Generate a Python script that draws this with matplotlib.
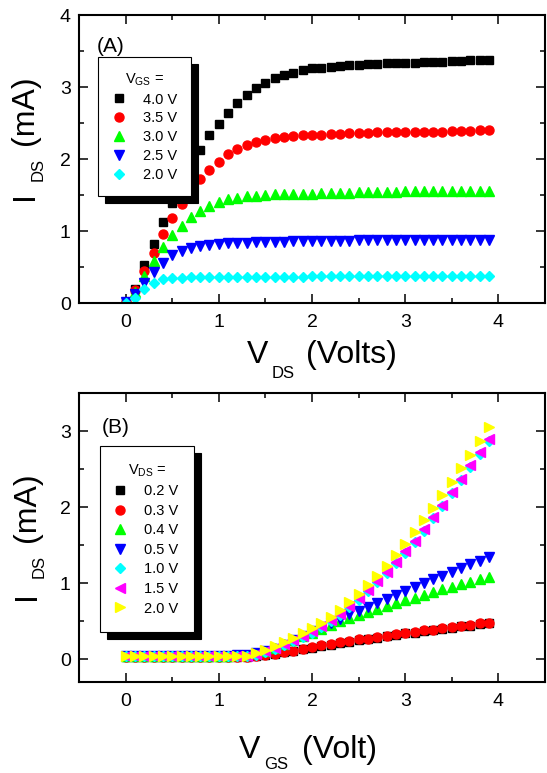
import matplotlib
matplotlib.use("Agg")
import matplotlib.pyplot as plt
from matplotlib.ticker import MultipleLocator

plt.rcParams['font.family'] = ['Liberation Sans', 'DejaVu Sans']

# sweep voltage (same grid for both panels)
v_sweep = [0.0, 0.1, 0.2, 0.3, 0.4, 0.5, 0.6, 0.7, 0.8, 0.9,
           1.0, 1.1, 1.2, 1.3, 1.4, 1.5, 1.6, 1.7, 1.8, 1.9,
           2.0, 2.1, 2.2, 2.3, 2.4, 2.5, 2.6, 2.7, 2.8, 2.9,
           3.0, 3.1, 3.2, 3.3, 3.4, 3.5, 3.6, 3.7, 3.8, 3.9]

# (A) output curves, I_DS (mA) vs V_DS for each V_GS
vgs_labels = ['4.0 V', '3.5 V', '3.0 V', '2.5 V', '2.0 V']
ids_vgs40 = [0.02, 0.20, 0.53, 0.82, 1.12, 1.39, 1.65, 1.90, 2.12, 2.33,
             2.49, 2.64, 2.78, 2.89, 2.99, 3.06, 3.12, 3.17, 3.20, 3.24,
             3.26, 3.27, 3.28, 3.29, 3.30, 3.31, 3.32, 3.32, 3.33, 3.33,
             3.34, 3.34, 3.35, 3.35, 3.35, 3.36, 3.36, 3.37, 3.37, 3.38]
ids_vgs35 = [0.02, 0.18, 0.45, 0.69, 0.96, 1.18, 1.37, 1.55, 1.72, 1.85,
             1.96, 2.07, 2.14, 2.20, 2.24, 2.27, 2.29, 2.31, 2.32, 2.33,
             2.34, 2.34, 2.35, 2.35, 2.36, 2.36, 2.36, 2.37, 2.37, 2.37,
             2.37, 2.38, 2.38, 2.38, 2.38, 2.39, 2.39, 2.39, 2.40, 2.40]
ids_vgs30 = [0.02, 0.15, 0.37, 0.58, 0.78, 0.94, 1.07, 1.19, 1.28, 1.35,
             1.40, 1.44, 1.46, 1.48, 1.49, 1.50, 1.51, 1.51, 1.52, 1.52,
             1.52, 1.53, 1.53, 1.53, 1.53, 1.54, 1.54, 1.54, 1.54, 1.54,
             1.55, 1.55, 1.55, 1.55, 1.55, 1.56, 1.56, 1.56, 1.56, 1.56]
ids_vgs25 = [0.02, 0.12, 0.28, 0.43, 0.55, 0.67, 0.72, 0.77, 0.79, 0.81,
             0.82, 0.83, 0.84, 0.84, 0.85, 0.85, 0.85, 0.85, 0.86, 0.86,
             0.86, 0.86, 0.86, 0.86, 0.86, 0.87, 0.87, 0.87, 0.87, 0.87,
             0.87, 0.87, 0.87, 0.87, 0.88, 0.88, 0.88, 0.88, 0.88, 0.88]
ids_vgs20 = [0.00, 0.07, 0.19, 0.28, 0.33, 0.35, 0.35, 0.36, 0.36, 0.36,
             0.36, 0.36, 0.36, 0.36, 0.36, 0.36, 0.36, 0.36, 0.36, 0.36,
             0.37, 0.37, 0.37, 0.37, 0.37, 0.37, 0.37, 0.37, 0.37, 0.37,
             0.37, 0.37, 0.37, 0.37, 0.37, 0.37, 0.37, 0.37, 0.37, 0.37]

# (B) transfer curves, I_DS (mA) vs V_GS for each V_DS
vds_labels = ['0.2 V', '0.3 V', '0.4 V', '0.5 V', '1.0 V', '1.5 V', '2.0 V']
ids_vds02 = [0.03, 0.03, 0.03, 0.03, 0.03, 0.03, 0.03, 0.03, 0.03, 0.03,
             0.03, 0.03, 0.03, 0.03, 0.04, 0.05, 0.07, 0.09, 0.11, 0.13,
             0.15, 0.17, 0.19, 0.21, 0.23, 0.25, 0.26, 0.28, 0.30, 0.32,
             0.34, 0.35, 0.37, 0.38, 0.40, 0.41, 0.43, 0.44, 0.46, 0.47]
ids_vds03 = [0.03, 0.03, 0.03, 0.03, 0.03, 0.03, 0.03, 0.03, 0.03, 0.03,
             0.03, 0.03, 0.03, 0.03, 0.04, 0.05, 0.07, 0.09, 0.11, 0.14,
             0.16, 0.18, 0.20, 0.22, 0.24, 0.26, 0.27, 0.29, 0.31, 0.33,
             0.35, 0.36, 0.38, 0.39, 0.41, 0.42, 0.44, 0.45, 0.47, 0.48]
ids_vds04 = [0.04, 0.04, 0.04, 0.04, 0.04, 0.04, 0.04, 0.04, 0.04, 0.04,
             0.04, 0.04, 0.05, 0.06, 0.08, 0.11, 0.15, 0.20, 0.25, 0.30,
             0.35, 0.40, 0.45, 0.50, 0.54, 0.58, 0.62, 0.66, 0.70, 0.74,
             0.78, 0.81, 0.85, 0.88, 0.92, 0.95, 0.99, 1.02, 1.05, 1.08]
ids_vds05 = [0.04, 0.04, 0.04, 0.04, 0.04, 0.04, 0.04, 0.04, 0.04, 0.04,
             0.04, 0.04, 0.05, 0.06, 0.08, 0.11, 0.14, 0.19, 0.25, 0.31,
             0.37, 0.42, 0.48, 0.53, 0.59, 0.64, 0.69, 0.74, 0.79, 0.85,
             0.90, 0.95, 1.00, 1.05, 1.10, 1.15, 1.20, 1.25, 1.29, 1.34]
ids_vds10 = [0.04, 0.04, 0.04, 0.04, 0.04, 0.04, 0.04, 0.04, 0.04, 0.04,
             0.04, 0.04, 0.04, 0.04, 0.06, 0.10, 0.14, 0.19, 0.24, 0.29,
             0.35, 0.42, 0.50, 0.58, 0.68, 0.78, 0.89, 1.01, 1.13, 1.26,
             1.40, 1.54, 1.69, 1.85, 2.01, 2.18, 2.35, 2.53, 2.70, 2.87]
ids_vds15 = [0.04, 0.04, 0.04, 0.04, 0.04, 0.04, 0.04, 0.04, 0.04, 0.04,
             0.04, 0.04, 0.04, 0.04, 0.07, 0.11, 0.15, 0.20, 0.25, 0.31,
             0.37, 0.44, 0.52, 0.60, 0.70, 0.80, 0.91, 1.03, 1.15, 1.28,
             1.42, 1.56, 1.71, 1.87, 2.03, 2.20, 2.37, 2.55, 2.72, 2.89]
ids_vds20 = [0.04, 0.04, 0.04, 0.04, 0.04, 0.04, 0.04, 0.04, 0.04, 0.04,
             0.04, 0.04, 0.04, 0.04, 0.08, 0.12, 0.17, 0.22, 0.28, 0.34,
             0.41, 0.48, 0.56, 0.65, 0.75, 0.86, 0.97, 1.10, 1.23, 1.37,
             1.52, 1.67, 1.83, 1.99, 2.16, 2.33, 2.51, 2.69, 2.87, 3.05]

W, H = 547, 773
fig = plt.figure(figsize=(W / 100, H / 100), dpi=100)
ax1 = fig.add_axes([79 / W, 1 - 303 / H, 466 / W, 288 / H])
ax2 = fig.add_axes([79 / W, 1 - 682 / H, 466 / W, 289 / H])

top_series = [ids_vgs40, ids_vgs35, ids_vgs30, ids_vgs25, ids_vgs20]
top_style = [('s', '#000000', 5.5), ('o', '#ff0000', 6.5), ('^', '#00ff00', 6.5),
             ('v', '#0000ff', 6.5), ('D', '#00ffff', 5.5)]
for ys, lab, (m, c, ms) in zip(top_series, vgs_labels, top_style):
    ax1.plot(v_sweep, ys, ls='none', marker=m, ms=ms, color=c, mec=c, label=lab)

bot_series = [ids_vds02, ids_vds03, ids_vds04, ids_vds05, ids_vds10, ids_vds15, ids_vds20]
bot_style = [('s', '#000000', 5.5), ('o', '#ff0000', 6.5), ('^', '#00ff00', 6.5),
             ('v', '#0000ff', 6.5), ('D', '#00ffff', 5.5), ('<', '#ff00ff', 6.5),
             ('>', '#ffff00', 6.5)]
for ys, lab, (m, c, ms) in zip(bot_series, vds_labels, bot_style):
    ax2.plot(v_sweep, ys, ls='none', marker=m, ms=ms, color=c, mec=c, label=lab)

ax1.set_xlim(-0.5, 4.5)
ax1.set_ylim(0, 4)
ax2.set_xlim(-0.5, 4.5)
ax2.set_ylim(-0.3, 3.5)

for ax in (ax1, ax2):
    ax.xaxis.set_major_locator(MultipleLocator(1))
    ax.xaxis.set_minor_locator(MultipleLocator(0.5))
    ax.yaxis.set_major_locator(MultipleLocator(1))
    ax.yaxis.set_minor_locator(MultipleLocator(0.5))
    ax.tick_params(which='both', direction='in', top=True, right=True, width=1.1)
    ax.tick_params(which='major', length=6.5, labelsize=14)
    ax.tick_params(which='minor', length=3.6)
    ax.tick_params(axis='x', pad=8)
    ax.tick_params(axis='y', pad=6)
    for sp in ax.spines.values():
        sp.set_linewidth(1.5)

leg_kw = dict(loc='upper left', fontsize=10.5, title_fontsize=10.5, frameon=True,
              fancybox=False, framealpha=1, edgecolor='black', borderaxespad=0,
              numpoints=1,
              shadow={'ox': 5, 'oy': -5, 'facecolor': 'black',
                      'edgecolor': 'black', 'alpha': 1})
l1 = ax1.legend(title=r'V$_{\mathregular{GS}}$ =',
                bbox_to_anchor=((98 - 79) / 466, (303 - 57) / 288),
                borderpad=0.95, labelspacing=0.34, handlelength=0.97,
                handletextpad=1.16, **leg_kw)
l2 = ax2.legend(title=r'V$_{\mathregular{DS}}$ =',
                bbox_to_anchor=((100 - 79) / 466, (682 - 446) / 289),
                borderpad=1.1, labelspacing=0.38, handlelength=0.5,
                handletextpad=1.4, **leg_kw)
for lg in (l1, l2):
    lg.get_frame().set_linewidth(0.8)


def px_text(x, y, s, size, rot=0):
    # place text by its left/baseline point, given in pixels from the top-left
    fig.text(x / W, 1 - y / H, s, fontsize=size, rotation=rot,
             rotation_mode='anchor', ha='left', va='baseline')


# panel tags
px_text(97, 52, '(A)', 15)
px_text(102, 433, '(B)', 15)

# x labels
px_text(247, 363, 'V', 23)
px_text(272, 378, 'DS', 12)
px_text(306, 363, '(Volts)', 23)
px_text(239, 758, 'V', 23)
px_text(264, 769, 'GS', 12)
px_text(302, 758, '(Volt)', 23)

# y labels
px_text(33, 200, 'I', 23, 90)
px_text(43, 181, 'DS', 12, 90)
px_text(33, 145, '(mA)', 23, 90)
px_text(35, 600, 'I', 23, 90)
px_text(44, 578, 'DS', 12, 90)
px_text(35, 542, '(mA)', 23, 90)

fig.savefig('out.png', dpi=100)
